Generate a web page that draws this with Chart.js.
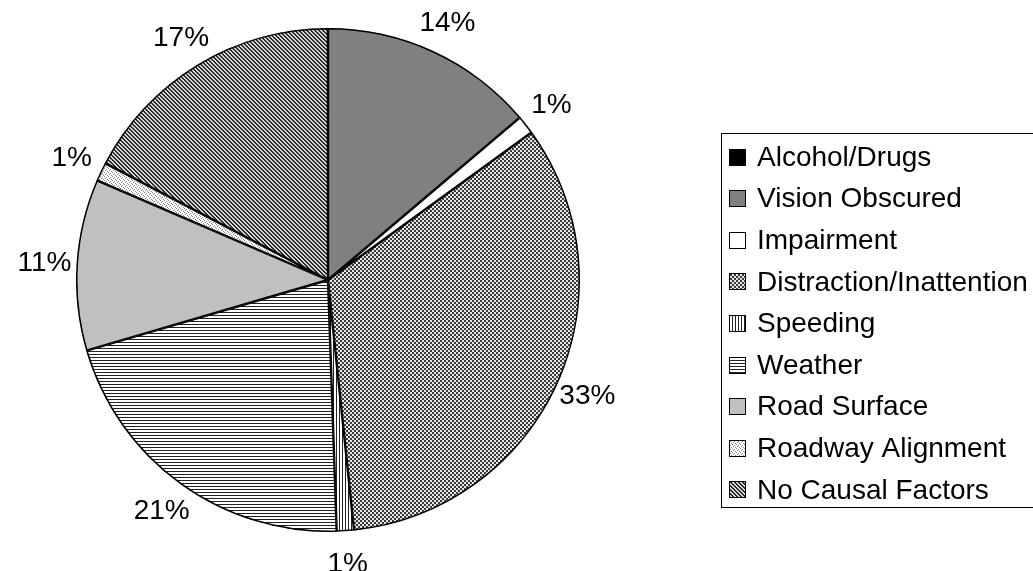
<!DOCTYPE html>
<html>
<head>
<meta charset="utf-8">
<script src="https://cdn.jsdelivr.net/npm/chart.js@4"></script>
<style>
  html, body { margin: 0; padding: 0; background: #fff; }
  #wrap { width: 1033px; height: 571px; }
</style>
</head>
<body>
<div id="wrap"><canvas id="pie" width="1033" height="571"></canvas></div>
<script>
const categories = [
  "Alcohol/Drugs",
  "Vision Obscured",
  "Impairment",
  "Distraction/Inattention",
  "Speeding",
  "Weather",
  "Road Surface",
  "Roadway Alignment",
  "No Causal Factors",
];
// share of crashes, percent
const shares = [0, 13.8, 1.2, 33.3, 1.1, 21, 11, 1.2, 17.3];
const fillKinds = ["black", "grey", "white", "checker", "vlines", "hlines", "silver", "dots", "diag"];

const FONT = '"Liberation Sans", Arial, sans-serif';

function makeTile(kind) {
  const c = document.createElement("canvas");
  const ctx = c.getContext("2d");
  let w = 4, h = 4;
  if (kind === "hlines") h = 3;
  if (kind === "vlines") w = 3;
  c.width = w; c.height = h;
  ctx.fillStyle = "#fff";
  ctx.fillRect(0, 0, w, h);
  ctx.fillStyle = "#222";
  switch (kind) {
    case "black":
      ctx.fillStyle = "#000";
      ctx.fillRect(0, 0, w, h);
      break;
    case "grey":
      ctx.fillStyle = "#808080";
      ctx.fillRect(0, 0, w, h);
      break;
    case "silver":
      ctx.fillStyle = "#c0c0c0";
      ctx.fillRect(0, 0, w, h);
      break;
    case "white":
      break;
    case "checker":
      ctx.fillStyle = "#e6e6e6";
      ctx.fillRect(0, 0, w, h);
      ctx.fillStyle = "#3a3a3a";
      ctx.fillRect(0, 0, 2, 2);
      ctx.fillRect(2, 2, 2, 2);
      break;
    case "vlines":
      ctx.fillRect(0, 0, 1, h);
      break;
    case "hlines":
      ctx.fillRect(0, 0, w, 1);
      break;
    case "dots":
      ctx.fillStyle = "#888";
      ctx.fillRect(0, 0, 1, 1);
      ctx.fillRect(2, 1, 1, 1);
      ctx.fillRect(1, 2, 1, 1);
      ctx.fillRect(3, 3, 1, 1);
      break;
    case "diag":
      ctx.fillStyle = "#d8d8d8";
      ctx.fillRect(0, 0, w, h);
      ctx.fillStyle = "#2a2a2a";
      for (let i = 0; i < 4; i++) {
        ctx.fillRect(i, i, 1, 1);
        ctx.fillRect((i + 1) % 4, i, 1, 1);
      }
      break;
  }
  return ctx.createPattern(c, "repeat");
}

const patterns = fillKinds.map((k) => makeTile(k));

const total = shares.reduce((a, b) => a + b, 0);

const outsideLabels = {
  id: "outsideLabels",
  afterDatasetsDraw(chart) {
    const ctx = chart.ctx;
    const meta = chart.getDatasetMeta(0);
    ctx.save();
    ctx.font = "28px " + FONT;
    ctx.fillStyle = "#000";
    ctx.textAlign = "center";
    ctx.textBaseline = "middle";
    meta.data.forEach((arc, i) => {
      if (!shares[i]) return;
      const mid = (arc.startAngle + arc.endAngle) / 2;
      const r = arc.outerRadius + 32;
      const x = arc.x + Math.cos(mid) * r;
      const y = arc.y + Math.sin(mid) * r;
      ctx.fillText(Math.round((shares[i] / total) * 100) + "%", x, y + 1);
    });
    ctx.restore();
  },
};

const boxLegend = {
  id: "boxLegend",
  afterDraw(chart) {
    const ctx = chart.ctx;
    const left = 721, top = 133, bottom = 507;
    const y0 = 157, step = 41.6, sw = 17;
    ctx.save();
    ctx.strokeStyle = "#000";
    ctx.lineWidth = 1;
    ctx.strokeRect(left + 0.5, top + 0.5, 400, bottom - top);
    ctx.font = "28px " + FONT;
    ctx.textBaseline = "middle";
    categories.forEach((name, i) => {
      const y = y0 + i * step;
      ctx.fillStyle = patterns[i];
      ctx.fillRect(729, Math.round(y - sw / 2), sw, sw);
      ctx.strokeStyle = "#000";
      ctx.strokeRect(729.5, Math.round(y - sw / 2) + 0.5, sw - 1, sw - 1);
      ctx.fillStyle = "#000";
      ctx.fillText(name, 757, y + 1);
    });
    ctx.restore();
  },
};

new Chart(document.getElementById("pie"), {
  type: "pie",
  data: {
    labels: categories,
    datasets: [
      {
        data: shares,
        backgroundColor: patterns,
        borderColor: "#000",
        borderWidth: 1.2,
        borderAlign: "inner",
      },
    ],
  },
  options: {
    responsive: false,
    animation: false,
    events: [],
    layout: {
      padding: { left: 76, right: 453, top: 28, bottom: 39 },
    },
    plugins: {
      legend: { display: false },
      tooltip: { enabled: false },
    },
  },
  plugins: [outsideLabels, boxLegend],
});
</script>
</body>
</html>
